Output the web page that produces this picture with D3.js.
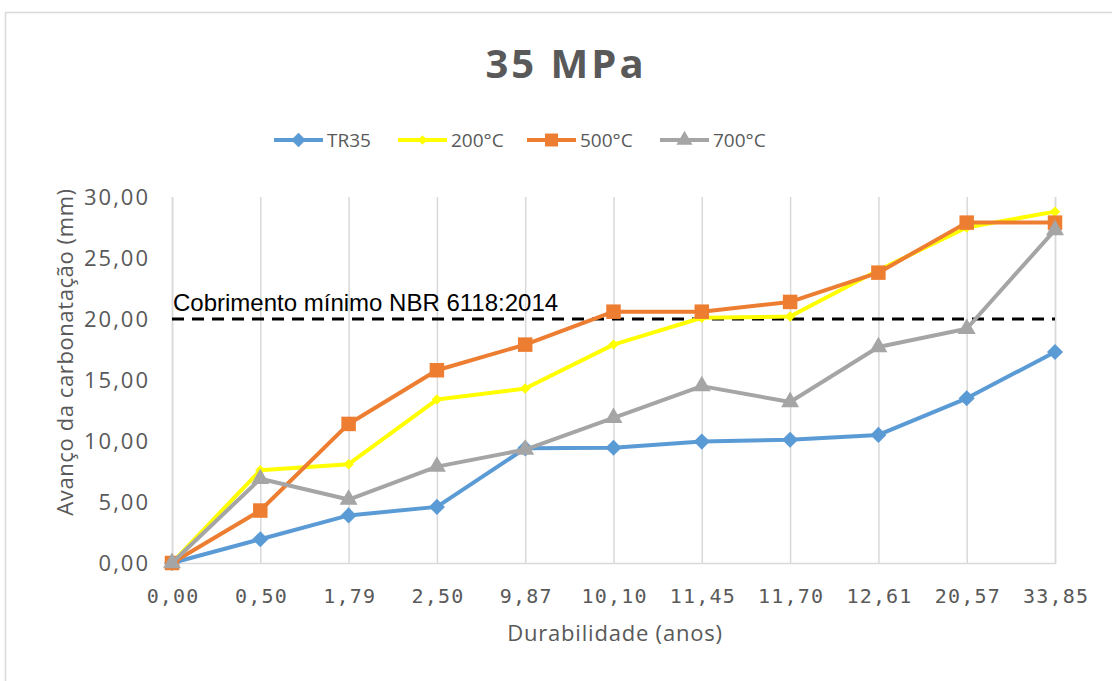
<!DOCTYPE html>
<html>
<head>
<meta charset="utf-8">
<script src="https://cdn.jsdelivr.net/npm/d3@7"></script>
<style>
  html, body { margin: 0; padding: 0; background: #fff; }
  svg { display: block; }
</style>
</head>
<body>
<svg id="chart" width="1112" height="681"></svg>
<script>
// Carbonation depth over service life, 35 MPa concrete
const categories = ["0,00", "0,50", "1,79", "2,50", "9,87", "10,10", "11,45", "11,70", "12,61", "20,57", "33,85"];
const seriesNames = ["TR35", "200°C", "500°C", "700°C"];
const tr35   = [0, 1.95, 3.9, 4.6, 9.4, 9.45, 9.95, 10.1, 10.5, 13.5, 17.3];
const t200   = [0, 7.6, 8.1, 13.4, 14.3, 17.9, 20.1, 20.2, 24.0, 27.5, 28.8];
const t500   = [0, 4.3, 11.4, 15.8, 17.9, 20.6, 20.6, 21.4, 23.8, 27.9, 27.9];
const t700   = [0, 6.9, 5.2, 7.9, 9.3, 11.9, 14.5, 13.2, 17.7, 19.2, 27.3];
const yTicks = [0, 5, 10, 15, 20, 25, 30];
const minCover = 20;
const minCoverLabel = "Cobrimento mínimo NBR 6118:2014";

const series = [
  { name: seriesNames[0], values: tr35, color: "#5B9BD5", marker: "diamond", size: 130 },
  { name: seriesNames[1], values: t200, color: "#FFFF00", marker: "diamond", size: 55 },
  { name: seriesNames[2], values: t500, color: "#ED7D31", marker: "square", size: 210 },
  { name: seriesNames[3], values: t700, color: "#A5A5A5", marker: "triangle", size: 140 }
];

const svg = d3.select("#chart");

// outer chart frame
svg.append("rect")
  .attr("x", 5.5).attr("y", 12.5)
  .attr("width", 1130).attr("height", 700)
  .attr("fill", "#fff").attr("stroke", "#d9d9d9").attr("stroke-width", 1.5);

const plotLeft = 172, plotRight = 1055, plotTop = 197, plotBottom = 563;

const x = d3.scalePoint().domain(categories).range([plotLeft, plotRight]);
const y = d3.scaleLinear().domain([0, 30]).range([plotBottom, plotTop]);

// title
svg.append("text")
  .attr("x", 566).attr("y", 78)
  .attr("text-anchor", "middle")
  .attr("font-family", "'Open Sans', sans-serif")
  .attr("font-weight", "bold")
  .attr("font-size", 40)
  .attr("letter-spacing", 3)
  .attr("fill", "#595959")
  .text("35 MPa");

// vertical gridlines at each category
const xAxis = d3.axisBottom(x).tickSize(-(plotBottom - plotTop)).tickPadding(26);
const gx = svg.append("g").attr("transform", `translate(0,${plotBottom})`).call(xAxis);
gx.select(".domain").attr("stroke", "#d9d9d9").attr("stroke-width", 1.5);
gx.selectAll(".tick line").attr("stroke", "#d9d9d9").attr("stroke-width", 1.5);
gx.selectAll(".tick text")
  .attr("font-family", "'DejaVu Sans Mono', monospace")
  .attr("font-size", 20)
  .attr("letter-spacing", 1.2)
  .attr("dx", 0.6)
  .attr("fill", "#595959");

// y axis labels
const yAxis = d3.axisLeft(y).tickValues(yTicks).tickSize(0).tickPadding(22)
  .tickFormat(d => d3.format(".2f")(d).replace(".", ","));
const gy = svg.append("g").attr("transform", `translate(${plotLeft},0)`).call(yAxis);
gy.select(".domain").remove();
gy.selectAll(".tick text")
  .attr("font-family", "'Open Sans', sans-serif")
  .attr("font-size", 22)
  .attr("letter-spacing", 2)
  .attr("fill", "#595959");

// axis titles
svg.append("text")
  .attr("x", 615).attr("y", 641)
  .attr("text-anchor", "middle")
  .attr("font-family", "'Open Sans', sans-serif")
  .attr("font-size", 22)
  .attr("letter-spacing", 0.8)
  .attr("fill", "#595959")
  .text("Durabilidade (anos)");

svg.append("text")
  .attr("transform", "translate(73,352) rotate(-90)")
  .attr("text-anchor", "middle")
  .attr("font-family", "'Open Sans', sans-serif")
  .attr("font-size", 22)
  .attr("letter-spacing", 0.6)
  .attr("fill", "#595959")
  .text("Avanço da carbonatação (mm)");

// minimum cover reference line
svg.append("line")
  .attr("x1", plotLeft).attr("x2", plotRight)
  .attr("y1", y(minCover)).attr("y2", y(minCover))
  .attr("stroke", "#000").attr("stroke-width", 3)
  .attr("stroke-dasharray", "12,8");

svg.append("text")
  .attr("x", plotLeft + 1).attr("y", y(minCover) - 8)
  .attr("font-family", "'Liberation Sans', Arial, sans-serif")
  .attr("font-size", 24)
  .attr("fill", "#000")
  .text(minCoverLabel);

const line = d3.line().x((d, i) => x(categories[i])).y(d => y(d));

// Excel-style markers: diamonds are squares turned 45°
function markerPath(kind, size) {
  if (kind === "triangle") return d3.symbol().type(d3.symbolTriangle).size(size)();
  return d3.symbol().type(d3.symbolSquare).size(size)();
}
function markerRotation(kind) { return kind === "diamond" ? " rotate(45)" : ""; }

series.forEach(s => {
  const g = svg.append("g");
  g.append("path")
    .datum(s.values)
    .attr("d", line)
    .attr("fill", "none")
    .attr("stroke", s.color)
    .attr("stroke-width", 4)
    .attr("stroke-linejoin", "round");
  g.selectAll("path.m")
    .data(s.values)
    .join("path")
    .attr("class", "m")
    .attr("transform", (d, i) => `translate(${x(categories[i])},${y(d)})${markerRotation(s.marker)}`)
    .attr("d", markerPath(s.marker, s.size))
    .attr("fill", s.color);
});

// legend
const legendX = [274, 398, 527, 660];
const legend = svg.append("g");
series.forEach((s, i) => {
  const lx = legendX[i], ly = 140;
  legend.append("line")
    .attr("x1", lx).attr("x2", lx + 49)
    .attr("y1", ly).attr("y2", ly)
    .attr("stroke", s.color).attr("stroke-width", 4);
  legend.append("path")
    .attr("transform", `translate(${lx + 24.5},${ly})${markerRotation(s.marker)}`)
    .attr("d", markerPath(s.marker, s.size * 0.8))
    .attr("fill", s.color);
  legend.append("text")
    .attr("x", lx + 53).attr("y", ly + 7)
    .attr("font-family", "'Open Sans', sans-serif")
    .attr("font-size", 19)
    .attr("fill", "#595959")
    .text(s.name);
});
</script>
</body>
</html>
